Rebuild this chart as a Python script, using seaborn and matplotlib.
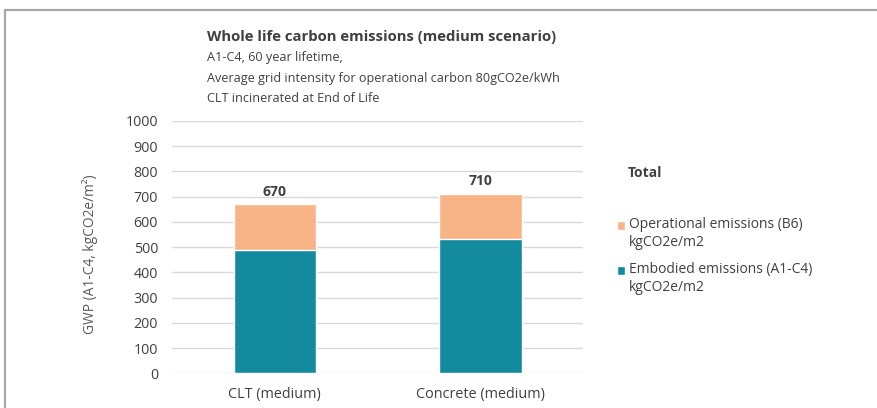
import matplotlib
matplotlib.use("Agg")
import matplotlib.pyplot as plt
from matplotlib.lines import Line2D
from matplotlib.patches import Patch, Rectangle
from matplotlib.legend_handler import HandlerPatch
import seaborn as sns

# data
categories = ["CLT (medium)", "Concrete (medium)"]
embodied = [490, 530]
operational = [180, 180]
totals = [e + o for e, o in zip(embodied, operational)]
yticks = list(range(0, 1001, 100))

teal = "#138A9E"
orange = "#F8B486"
txt = "#404040"

sns.set_theme(style="white")
plt.rcParams["font.family"] = ["Open Sans", "DejaVu Sans"]

fig = plt.figure(figsize=(8.77, 4.08), dpi=100)
ax = fig.add_axes([0.196, 0.085, 0.469, 0.619])

# stacked bars: total (orange) behind embodied (teal)
sns.barplot(x=categories, y=totals, color=orange, saturation=1, width=0.4, ax=ax, zorder=2)
sns.barplot(x=categories, y=embodied, color=teal, saturation=1, width=0.4, ax=ax, zorder=3)

for i, t in enumerate(totals):
    ax.text(i, t + 22, str(t), ha="center", va="bottom", fontsize=10,
            fontweight="bold", color=txt, zorder=4)

ax.set_ylim(0, 1000)
ax.set_yticks(yticks)
ax.yaxis.grid(True, color="#D9D9D9", linewidth=1)
ax.set_axisbelow(True)
sns.despine(ax=ax, left=True, bottom=True)
ax.tick_params(axis="y", length=0, labelsize=10.3, labelcolor=txt, pad=10)
ax.tick_params(axis="x", length=0, labelsize=10.4, labelcolor=txt, pad=10)
ax.set_ylabel("GWP (A1-C4, kgCO2e/m²)", fontsize=9.9, color="#595959")
ax.yaxis.set_label_coords(-0.18, 0.472)

# title block
fig.text(207 / 877, 1 - 37 / 408, "Whole life carbon emissions (medium scenario)",
         fontsize=10.7, fontweight="bold", color=txt, va="center")
sub = ["A1-C4, 60 year lifetime,",
       "Average grid intensity for operational carbon 80gCO2e/kWh",
       "CLT incinerated at End of Life"]
for k, s in enumerate(sub):
    fig.text(207 / 877, 1 - (58 + 20.5 * k) / 408, s, fontsize=9.05,
             color=txt, va="center")


# legend square sits on the first line of each two-line label
def top_square(legend, orig_handle, xdescent, ydescent, width, height, fontsize):
    return Rectangle((-xdescent, -ydescent + 6.3), width, height)


fig.text(628 / 877, 1 - 173 / 408, "Total", fontsize=10, fontweight="bold",
         color=txt, va="center")
handles = [Patch(facecolor=orange), Patch(facecolor=teal)]
labels = ["Operational emissions (B6)\nkgCO2e/m2", "Embodied emissions (A1-C4)\nkgCO2e/m2"]
leg = fig.legend(handles, labels, loc="upper left", bbox_to_anchor=(604 / 877, 1 - 204 / 408),
                 frameon=False, fontsize=10, handlelength=0.6, handleheight=0.6,
                 handletextpad=0.3, labelspacing=0.85, labelcolor=txt,
                 handler_map={Patch: HandlerPatch(patch_func=top_square)})
for t in leg.get_texts():
    t.set_linespacing(1.32)

# outer frame
fig.add_artist(Line2D([5 / 877, 1], [1 - 10 / 408, 1 - 10 / 408], color="#A6A6A6", linewidth=1.6))
fig.add_artist(Line2D([5 / 877, 5 / 877], [0, 1 - 10 / 408], color="#A6A6A6", linewidth=1.6))

fig.savefig("out.png", dpi=100)
